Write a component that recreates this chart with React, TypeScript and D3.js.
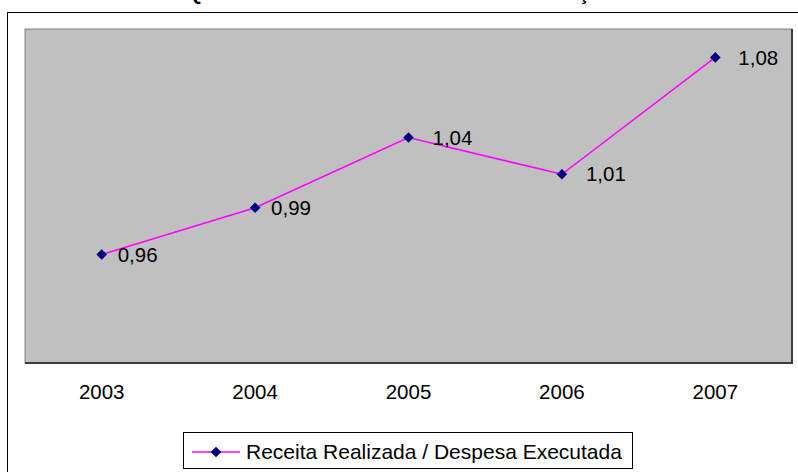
import React, { useRef, useEffect } from 'react';
import * as d3 from 'd3';

const years = ['2003', '2004', '2005', '2006', '2007'];
const quociente = [0.965, 0.993, 1.035, 1.013, 1.083];
const labels = ['0,96', '0,99', '1,04', '1,01', '1,08'];
const seriesName = 'Receita Realizada / Despesa Executada';
const title = 'QUOCIENTE DO RESULTADO DA EXECUÇÃO';

const labelDx = [16, 16, 24, 24, 23];

const App = () => {
  const ref = useRef<SVGSVGElement>(null);

  const W = 798, H = 472;
  const plot = { left: 25, top: 29, right: 792, bottom: 363 };
  const font = 'Arial, "Liberation Sans", sans-serif';

  useEffect(() => {
    const svg = d3.select(ref.current);
    svg.selectAll('*').remove();

    svg.append('rect').attr('width', W).attr('height', H).attr('fill', '#fff');

    // title: the top of the picture cuts it, only the descenders show
    svg.append('text')
      .attr('x', 404).attr('y', 0)
      .attr('text-anchor', 'middle')
      .attr('font-family', font).attr('font-weight', 'bold').attr('font-size', 20)
      .text(title);

    // outer chart frame
    svg.append('rect')
      .attr('x', 7.5).attr('y', 12.5)
      .attr('width', 820).attr('height', 480)
      .attr('fill', 'none').attr('stroke', '#000').attr('stroke-width', 1);

    // plot area
    svg.append('rect')
      .attr('x', plot.left).attr('y', plot.top)
      .attr('width', plot.right - plot.left).attr('height', plot.bottom - plot.top)
      .attr('fill', '#c0c0c0').attr('stroke', '#808080').attr('stroke-width', 1);
    svg.append('path')
      .attr('d', `M${plot.left},${plot.bottom}H${plot.right}V${plot.top}`)
      .attr('fill', 'none').attr('stroke', '#3c3c3c').attr('stroke-width', 2);

    const x = d3.scaleBand().domain(years).range([plot.left, plot.right]);
    const y = d3.scaleLinear().domain([0.9, 1.1]).range([plot.bottom, plot.top]);
    const cx = (i: number) => (x(years[i]) as number) + x.bandwidth() / 2;

    // category labels
    svg.append('g').selectAll('text')
      .data(years).enter().append('text')
      .attr('x', d => (x(d) as number) + x.bandwidth() / 2)
      .attr('y', 392)
      .attr('dy', '0.35em')
      .attr('text-anchor', 'middle')
      .attr('font-family', font).attr('font-size', 20.5)
      .text(d => d);

    const line = d3.line<number>()
      .x((d, i) => cx(i))
      .y(d => y(d));

    svg.append('path')
      .datum(quociente)
      .attr('d', line)
      .attr('fill', 'none').attr('stroke', '#ff00ff').attr('stroke-width', 1.5);

    const diamond = d3.symbol().type(d3.symbolDiamond2).size(72);

    svg.append('g').selectAll('path')
      .data(quociente).enter().append('path')
      .attr('d', diamond)
      .attr('transform', (d, i) => `translate(${cx(i)},${y(d)})`)
      .attr('fill', '#000080');

    svg.append('g').selectAll('text')
      .data(quociente).enter().append('text')
      .attr('x', (d, i) => cx(i) + labelDx[i])
      .attr('y', d => y(d))
      .attr('dy', '0.35em')
      .attr('font-family', font).attr('font-size', 20.5)
      .text((d, i) => labels[i]);

    // legend
    const lg = svg.append('g');
    lg.append('rect')
      .attr('x', 183.5).attr('y', 432.5).attr('width', 449).attr('height', 36)
      .attr('fill', '#fff').attr('stroke', '#000').attr('stroke-width', 1);
    lg.append('line')
      .attr('x1', 192).attr('x2', 240).attr('y1', 452).attr('y2', 452)
      .attr('stroke', '#ff00ff').attr('stroke-width', 1.5);
    lg.append('path')
      .attr('d', diamond)
      .attr('transform', 'translate(216,452)')
      .attr('fill', '#000080');
    lg.append('text')
      .attr('x', 246).attr('y', 452).attr('dy', '0.35em')
      .attr('font-family', font).attr('font-size', 21)
      .text(seriesName);
  });

  return (
    <svg ref={ref} width={W} height={H}
      style={{ position: 'absolute', left: 0, top: 0, display: 'block' }} />
  );
};

export default App;
